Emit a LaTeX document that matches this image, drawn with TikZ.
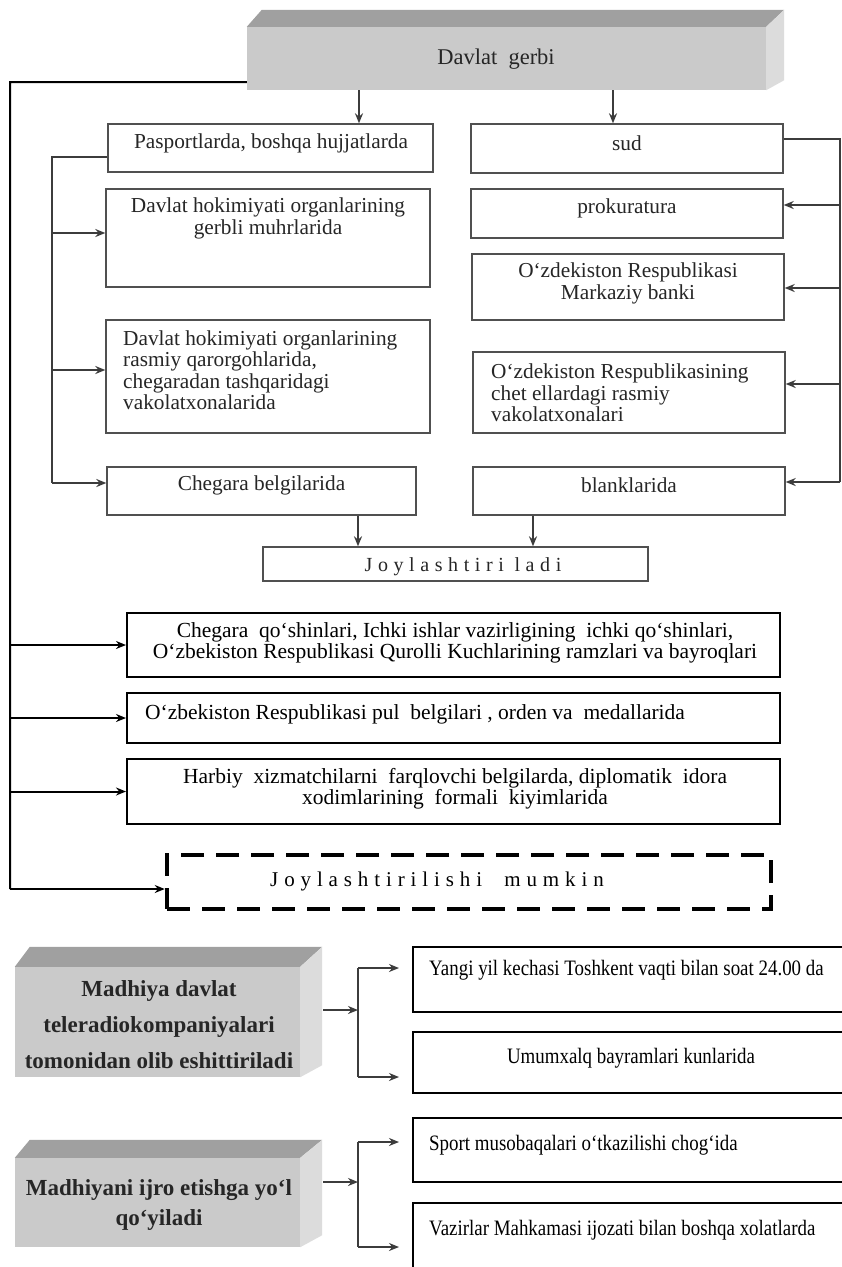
\documentclass[tikz,border=0pt]{standalone}
\usepackage{fontspec}
\setmainfont{Liberation Serif}
\newfontfamily\condfam[FakeStretch=0.86]{Liberation Serif}
\newfontfamily\spacedfam[LetterSpace=28]{Liberation Serif}
\usetikzlibrary{arrows.meta,calc}
\definecolor{lc}{HTML}{3C3C3C}
\definecolor{bc}{HTML}{505050}
\definecolor{facefront}{HTML}{CACACA}
\definecolor{facetop}{HTML}{A0A0A0}
\definecolor{faceside}{HTML}{DCDCDC}
\definecolor{txt}{HTML}{262626}
\newcommand\boxfont{\fontsize{21.3}{21.5}\selectfont}
\newcommand\midfont{\fontsize{21.5}{20.5}\selectfont}
\newcommand\blockfont{\fontsize{23}{36}\selectfont\bfseries}
\newcommand\lowfont{\condfam\fontsize{22}{24}\selectfont}
\tikzset{
  gbox/.style={draw=bc, line width=1.4pt, inner sep=0pt},
  kbox/.style={draw=black, line width=2pt, inner sep=0pt},
  dbox/.style={draw=black, line width=4.5pt, dash pattern=on 23pt off 12pt, inner sep=0pt},
  face/.style={fill=facefront, draw=none, inner sep=0pt},
  lbl/.style={inner sep=0pt, text=txt},
  conn/.style={draw=lc, line width=1.6pt},
  kconn/.style={draw=black, line width=2pt},
  arr/.style={conn, -{Stealth[length=10pt,width=8pt]}},
  karr/.style={kconn, -{Stealth[length=10pt,width=8pt]}},
}
\begin{document}
\begin{tikzpicture}[x=1pt,y=-1pt]
\clip (0,0) rectangle (842,1267);
\fill[white] (0,0) rectangle (842,1267);

% ---------- top block ----------
\node[face, minimum width=519pt, minimum height=63pt] (dg) at (506.5,58.5) {};
\fill[facetop] (dg.north west) -- ([xshift=15pt,yshift=17pt]dg.north west) -- ([xshift=18pt,yshift=17pt]dg.north east) -- (dg.north east) -- cycle;
\fill[faceside] (dg.north east) -- ([xshift=18pt,yshift=17pt]dg.north east) -- ([xshift=18pt,yshift=10pt]dg.south east) -- (dg.south east) -- cycle;
\node[lbl, font=\fontsize{22.5}{24}\selectfont] (dgt) at (496,59) {Davlat\ \ gerbi};

% ---------- top section boxes ----------
\node[gbox, minimum width=325pt, minimum height=48pt] (pasp) at (270.5,148) {};
\node[gbox, minimum width=312pt, minimum height=49pt] (sud) at (627,148.5) {};
\node[gbox, minimum width=324pt, minimum height=98pt] (gerb) at (268,238) {};
\node[gbox, minimum width=312pt, minimum height=49pt] (prok) at (627,213.5) {};
\node[gbox, minimum width=312pt, minimum height=66pt] (bank) at (628,287) {};
\node[gbox, minimum width=324pt, minimum height=113pt] (rasm) at (268,376.5) {};
\node[gbox, minimum width=312pt, minimum height=81pt] (chet) at (629,392.5) {};
\node[gbox, minimum width=309pt, minimum height=48pt] (cheg) at (261.5,491) {};
\node[gbox, minimum width=312pt, minimum height=48pt] (blank) at (629,491) {};
\node[gbox, minimum width=385pt, minimum height=34pt] (joy) at (455.5,564) {};

\node[lbl, font=\boxfont] at (271,143) {Pasportlarda, boshqa hujjatlarda};
\node[lbl, font=\boxfont] at (627,143) {sud};
\node[lbl, font=\boxfont, align=center] at (268,218.5) {Davlat hokimiyati organlarining\\gerbli muhrlarida};
\node[lbl, font=\boxfont] at (627,208) {prokuratura};
\node[lbl, font=\boxfont, align=center] at (628,283.5) {O‘zdekiston Respublikasi\\Markaziy banki};
\node[lbl, font=\boxfont, align=left, anchor=west] at (123,370) {Davlat hokimiyati organlarining\\rasmiy qarorgohlarida,\\chegaradan tashqaridagi\\vakolatxonalarida};
\node[lbl, font=\boxfont, align=left, anchor=west] at (491,393) {O‘zdekiston Respublikasining\\chet ellardagi rasmiy\\vakolatxonalari};
\node[lbl, font=\boxfont] at (261.5,485) {Chegara belgilarida};
\node[lbl, font=\boxfont] at (629,485) {blanklarida};
\node[lbl, font=\spacedfam\fontsize{20}{22}\selectfont] at (463,567) {Joylashtiri ladi};

% ---------- middle boxes ----------
\node[kbox, minimum width=653pt, minimum height=64pt] (b1) at (453.5,645) {};
\node[kbox, minimum width=653pt, minimum height=50pt] (b2) at (453.5,718) {};
\node[kbox, minimum width=653pt, minimum height=65pt] (b3) at (453.5,791.5) {};
\node[dbox, minimum width=604pt, minimum height=54pt] (dash) at (469,882) {};

\node[lbl, font=\midfont, align=center, text=black] at (455,643) {Chegara\ \ qo‘shinlari, Ichki ishlar vazirligining\ \ ichki qo‘shinlari,\\O‘zbekiston Respublikasi Qurolli Kuchlarining ramzlari va bayroqlari};
\node[lbl, font=\midfont, anchor=west, text=black] at (145,714) {O‘zbekiston Respublikasi pul\ \ belgilari , orden va\ \ medallarida};
\node[lbl, font=\midfont, align=center, text=black] at (455,788.5) {Harbiy\ \ xizmatchilarni\ \ farqlovchi belgilarda, diplomatik\ \ idora\\xodimlarining\ \ formali\ \ kiyimlarida};
\node[lbl, font=\spacedfam\fontsize{21}{22}\selectfont, text=black] at (437,881) {Joylashtirilishi\ \ mumkin};

% ---------- lower blocks ----------
\node[face, minimum width=285pt, minimum height=110pt] (blk1) at (157.5,1022) {};
\fill[facetop] (blk1.north west) -- ([xshift=15pt,yshift=20pt]blk1.north west) -- ([xshift=22pt,yshift=20pt]blk1.north east) -- (blk1.north east) -- cycle;
\fill[faceside] (blk1.north east) -- ([xshift=22pt,yshift=20pt]blk1.north east) -- ([xshift=22pt,yshift=12pt]blk1.south east) -- (blk1.south east) -- cycle;
\node[lbl, font=\blockfont, align=center, text=txt] at (159,1025) {Madhiya davlat\\teleradiokompaniyalari\\tomonidan olib eshittiriladi};

\node[face, minimum width=285pt, minimum height=89pt] (blk2) at (157.5,1202.5) {};
\fill[facetop] (blk2.north west) -- ([xshift=15pt,yshift=18pt]blk2.north west) -- ([xshift=22pt,yshift=18pt]blk2.north east) -- (blk2.north east) -- cycle;
\fill[faceside] (blk2.north east) -- ([xshift=22pt,yshift=18pt]blk2.north east) -- ([xshift=22pt,yshift=12pt]blk2.south east) -- (blk2.south east) -- cycle;
\node[lbl, font=\fontsize{23}{30}\selectfont\bfseries, align=center, text=txt] at (159,1205) {Madhiyani ijro etishga yo‘l\\qo‘yiladi};

\node[kbox, minimum width=437pt, minimum height=65pt] (y1) at (631.5,979.5) {};
\node[kbox, minimum width=437pt, minimum height=61pt] (y2) at (631.5,1062.5) {};
\node[kbox, minimum width=437pt, minimum height=64pt] (y3) at (631.5,1150) {};
\node[kbox, minimum width=437pt, minimum height=90pt] (y4) at (631.5,1248) {};

\node[lbl, font=\lowfont, anchor=west, text=black] at (429,970) {Yangi yil kechasi Toshkent vaqti bilan soat 24.00 da};
\node[lbl, font=\lowfont, text=black] at (631,1058) {Umumxalq bayramlari kunlarida};
\node[lbl, font=\lowfont, anchor=west, text=black] at (429,1145) {Sport musobaqalari o‘tkazilishi chog‘ida};
\node[lbl, font=\lowfont, anchor=west, text=black] at (429,1230) {Vazirlar Mahkamasi ijozati bilan boshqa xolatlarda};

% ---------- connectors: top ----------
\coordinate (LT) at (10,82);
\coordinate (LB) at (10,889);
\draw[kconn] ([yshift=8pt]dg.south west) -- (LT) -- (LB);
\draw[karr] (LB) -- (LB -| dash.west);
\draw[karr] (LT |- b1.west) -- (b1.west);
\draw[karr] (LT |- b2.west) -- (b2.west);
\draw[karr] (LT |- b3.west) -- (b3.west);

\coordinate (xa) at (359,0);
\coordinate (xb) at (613,0);
\draw[arr] (dg.south -| xa) -- (pasp.north -| xa);
\draw[arr] (dg.south -| xb) -- (sud.north -| xb);

\coordinate (LBt) at (52,157);
\coordinate (LBb) at (52,483);
\coordinate (ga) at (52,233);
\coordinate (ra) at (52,370);
\draw[conn] (pasp.west |- LBt) -- (LBt) -- (LBb);
\draw[arr] (ga) -- (ga -| gerb.west);
\draw[arr] (ra) -- (ra -| rasm.west);
\draw[arr] (LBb) -- (LBb -| cheg.west);

\coordinate (RBt) at (840,139);
\coordinate (RBb) at (840,482);
\coordinate (pa) at (840,205);
\coordinate (ba) at (840,288);
\coordinate (ca) at (840,384);
\draw[conn] (sud.east |- RBt) -- (RBt) -- (RBb);
\draw[arr] (pa) -- (pa -| prok.east);
\draw[arr] (ba) -- (ba -| bank.east);
\draw[arr] (ca) -- (ca -| chet.east);
\draw[arr] (RBb) -- (RBb -| blank.east);

\coordinate (xc) at (358,0);
\coordinate (xd) at (533,0);
\draw[arr] (cheg.south -| xc) -- (joy.north -| xc);
\draw[arr] (blank.south -| xd) -- (joy.north -| xd);

% ---------- connectors: bottom ----------
\coordinate (J1) at (358,1010);
\coordinate (J1a) at (358,968);
\coordinate (J1b) at (358,1077);
\draw[arr] ([xshift=23pt]blk1.east |- J1) -- (J1);
\draw[conn] (J1a) -- (J1b);
\draw[arr] (J1a) -- ([xshift=-13pt]y1.west |- J1a);
\draw[arr] (J1b) -- ([xshift=-13pt]y2.west |- J1b);

\coordinate (J2) at (358,1182);
\coordinate (J2a) at (358,1142);
\coordinate (J2b) at (358,1247);
\draw[arr] ([xshift=23pt]blk2.east |- J2) -- (J2);
\draw[conn] (J2a) -- (J2b);
\draw[arr] (J2a) -- ([xshift=-13pt]y3.west |- J2a);
\draw[arr] (J2b) -- ([xshift=-13pt]y4.west |- J2b);
\end{tikzpicture}
\end{document}
